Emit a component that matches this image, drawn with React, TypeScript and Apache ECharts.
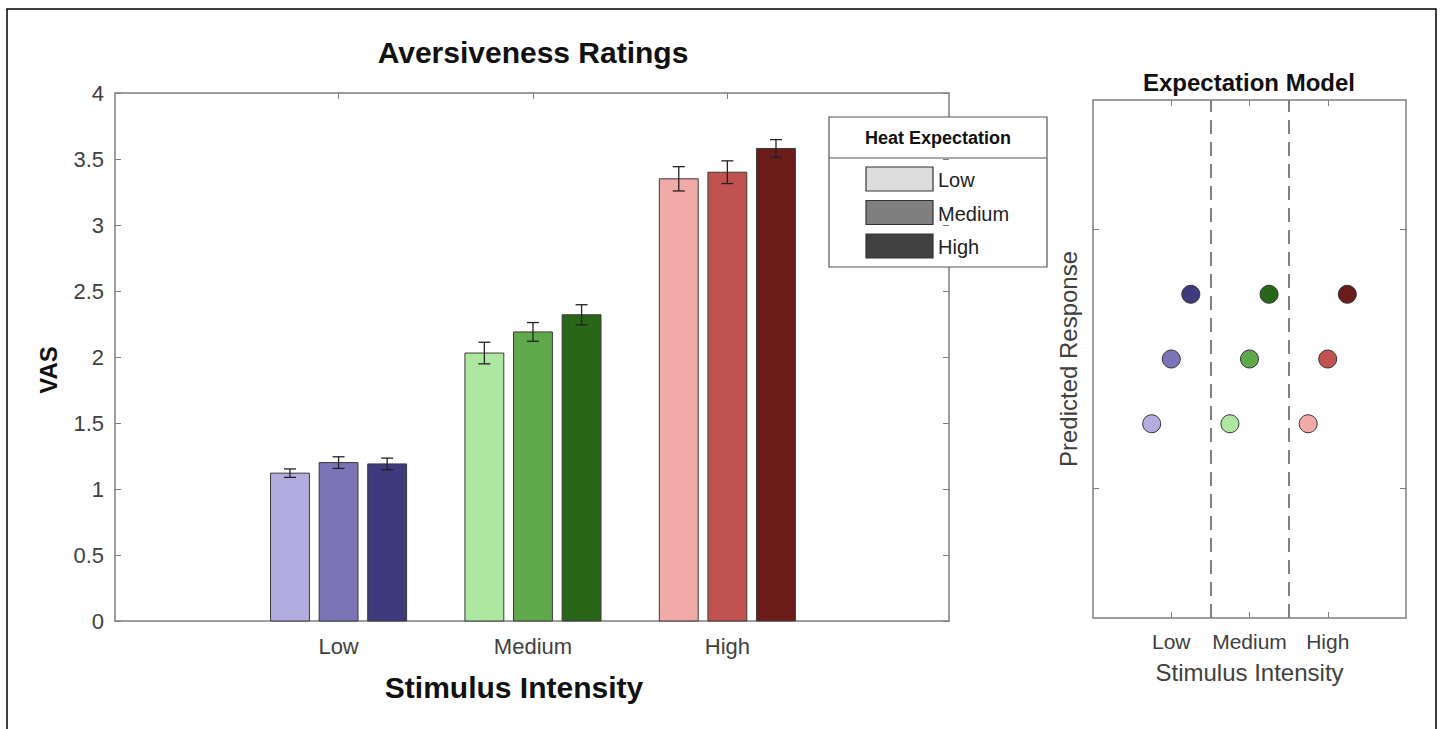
import React, { useEffect, useRef } from "react";
import * as echarts from "echarts";

const stimulusLevels = ["Low", "Medium", "High"];
const expectationLevels = ["Low", "Medium", "High"];
// VAS means per stimulus level (Low, Medium, High) for each heat expectation
const vasLowExp = [1.12, 2.03, 3.35];
const vasMediumExp = [1.2, 2.19, 3.4];
const vasHighExp = [1.19, 2.32, 3.58];
// error bar half-lengths
const errLowExp = [0.032, 0.082, 0.092];
const errMediumExp = [0.044, 0.071, 0.086];
const errHighExp = [0.044, 0.076, 0.067];
// expectation model predicted response (per stimulus level)
const predLowExp = [3, 3, 3];
const predMediumExp = [4, 4, 4];
const predHighExp = [5, 5, 5];
const vasTicks = [0, 0.5, 1, 1.5, 2, 2.5, 3, 3.5, 4];
const catTicks = [1, 2, 3];
const modelYTicks = [2, 6];
const modelDividers = [1.5, 2.5];

// colours [stimulus][expectation]
const palette = [
  ["#b3acdf", "#7b74b6", "#3e3a7d"],
  ["#ade7a0", "#5fa94b", "#286618"],
  ["#f2aaa8", "#c0524f", "#6b1b18"],
];
const legendSwatches = ["#dcdcdc", "#7f7f7f", "#404040"];

const FONT = "'Liberation Sans', Arial, Helvetica, sans-serif";
const AXIS_GRAY = "#7f7f7f";
const LABEL = "#404040";

export default function App() {
  const ref = useRef<HTMLDivElement>(null);
  useEffect(() => {
    if (!ref.current) return;
    const chart = echarts.init(ref.current, null, { renderer: "svg" });

    const vals = [vasLowExp, vasMediumExp, vasHighExp];
    const errs = [errLowExp, errMediumExp, errHighExp];
    const preds = [predLowExp, predMediumExp, predHighExp];
    const barData: number[][] = [];
    const dotData: any[] = [];
    for (let s = 0; s < stimulusLevels.length; s++) {
      for (let e = 0; e < expectationLevels.length; e++) {
        barData.push([s + 1 + (e - 1) * 0.25, vals[e][s], errs[e][s], s, e]);
        dotData.push({
          value: [s + 1 + (e - 1) * 0.25, preds[e][s]],
          itemStyle: { color: palette[s][e] },
        });
      }
    }

    const tick = (values?: number[]) => ({
      show: true,
      inside: true,
      length: 6,
      ...(values ? { customValues: values } : {}),
      lineStyle: { color: AXIS_GRAY, width: 1 },
    });
    const noLine = { show: false, onZero: false };

    const tickOnly = (gridIndex: number, position: string, extra: any) => ({
      gridIndex,
      position,
      axisLine: noLine,
      splitLine: { show: false },
      axisLabel: { show: false },
      ...extra,
    });

    const catFormatter = (v: number) => stimulusLevels[Math.round(v) - 1] ?? "";

    const option: any = {
      animation: false,
      backgroundColor: "#ffffff",
      textStyle: { fontFamily: FONT },
      grid: [
        { left: 115, top: 93, width: 834, height: 528, show: true, borderColor: AXIS_GRAY, borderWidth: 1.5, backgroundColor: "transparent" },
        { left: 1093, top: 100, width: 313, height: 518, show: true, borderColor: AXIS_GRAY, borderWidth: 1.5, backgroundColor: "transparent" },
      ],
      xAxis: [
        {
          type: "value",
          gridIndex: 0,
          min: -0.15,
          max: 4.14,
          name: "Stimulus Intensity",
          nameLocation: "middle",
          nameGap: 51,
          nameTextStyle: { fontFamily: FONT, fontSize: 30, fontWeight: "bold", color: "#111", padding: [0, 36, 0, 0] },
          axisLine: noLine,
          splitLine: { show: false },
          axisTick: tick(catTicks),
          axisLabel: {
            customValues: catTicks,
            formatter: catFormatter,
            fontFamily: FONT,
            fontSize: 22,
            color: LABEL,
            margin: 14,
          },
        },
        tickOnly(0, "top", { type: "value", min: -0.15, max: 4.14, axisTick: tick(catTicks) }),
        {
          type: "value",
          gridIndex: 1,
          min: 0,
          max: 4,
          name: "Stimulus Intensity",
          nameLocation: "middle",
          nameGap: 42,
          nameTextStyle: { fontFamily: FONT, fontSize: 24, color: LABEL },
          axisLine: noLine,
          splitLine: { show: false },
          axisTick: tick(catTicks),
          axisLabel: {
            customValues: catTicks,
            formatter: catFormatter,
            fontFamily: FONT,
            fontSize: 21,
            color: LABEL,
            margin: 13,
          },
        },
        tickOnly(1, "top", { type: "value", min: 0, max: 4, axisTick: tick(catTicks) }),
      ],
      yAxis: [
        {
          type: "value",
          gridIndex: 0,
          min: 0,
          max: 4,
          interval: 0.5,
          name: "VAS",
          nameLocation: "middle",
          nameGap: 55,
          nameTextStyle: { fontFamily: FONT, fontSize: 24, fontWeight: "bold", color: "#111", padding: [0, 26, 0, 0] },
          axisLine: noLine,
          splitLine: { show: false },
          axisTick: tick(),
          axisLabel: {
            customValues: vasTicks,
            fontFamily: FONT,
            fontSize: 22,
            color: LABEL,
            margin: 11,
          },
        },
        tickOnly(0, "right", { type: "value", min: 0, max: 4, interval: 0.5, axisTick: tick() }),
        {
          type: "value",
          gridIndex: 1,
          min: 0,
          max: 8,
          name: "Predicted Response",
          nameLocation: "middle",
          nameGap: 13,
          nameTextStyle: { fontFamily: FONT, fontSize: 24, color: LABEL },
          axisLine: noLine,
          splitLine: { show: false },
          axisTick: tick(modelYTicks),
          axisLabel: { show: false, customValues: modelYTicks },
        },
        tickOnly(1, "right", { type: "value", min: 0, max: 8, axisTick: tick(modelYTicks) }),
      ],
      series: [
        {
          type: "custom",
          xAxisIndex: 0,
          yAxisIndex: 0,
          data: barData,
          renderItem: (params: any, api: any) => {
            const x = api.value(0);
            const y = api.value(1);
            const e = api.value(2);
            const s = api.value(3);
            const k = api.value(4);
            const half = 0.1;
            const p0 = api.coord([x - half, 0]);
            const p1 = api.coord([x + half, y]);
            const top = api.coord([x, y + e]);
            const bot = api.coord([x, y - e]);
            const cap = 6;
            const errStyle = { stroke: "#222", lineWidth: 1.3 };
            return {
              type: "group",
              children: [
                {
                  type: "rect",
                  shape: { x: p0[0], y: p1[1], width: p1[0] - p0[0], height: p0[1] - p1[1] },
                  style: { fill: palette[s][k], stroke: "#3a3a3a", lineWidth: 1 },
                },
                { type: "line", shape: { x1: top[0], y1: top[1], x2: bot[0], y2: bot[1] }, style: errStyle },
                { type: "line", shape: { x1: top[0] - cap, y1: top[1], x2: top[0] + cap, y2: top[1] }, style: errStyle },
                { type: "line", shape: { x1: bot[0] - cap, y1: bot[1], x2: bot[0] + cap, y2: bot[1] }, style: errStyle },
              ],
            };
          },
        },
        {
          type: "scatter",
          xAxisIndex: 2,
          yAxisIndex: 2,
          symbolSize: 18,
          itemStyle: { borderColor: "#333", borderWidth: 1, opacity: 1 },
          data: dotData,
          markLine: {
            silent: true,
            symbol: "none",
            label: { show: false },
            lineStyle: { color: "#808080", type: [14, 8], width: 2 },
            data: modelDividers.map((v) => ({ xAxis: v })),
          },
        },
      ],
      graphic: [
        {
          type: "rect",
          shape: { x: 7, y: 9, width: 1429, height: 740 },
          style: { fill: "none", stroke: "#000", lineWidth: 1.5 },
          silent: true,
        },
        {
          type: "text",
          x: 533,
          y: 52,
          style: { text: "Aversiveness Ratings", fontFamily: FONT, fontSize: 30, fontWeight: "bold", fill: "#111", align: "center", verticalAlign: "middle" },
        },
        {
          type: "text",
          x: 1249,
          y: 82,
          style: { text: "Expectation Model", fontFamily: FONT, fontSize: 24, fontWeight: "bold", fill: "#111", align: "center", verticalAlign: "middle" },
        },
        {
          type: "group",
          children: [
            { type: "rect", shape: { x: 829, y: 117, width: 218, height: 150 }, style: { fill: "#fff", stroke: "#555", lineWidth: 1.2 } },
            { type: "line", shape: { x1: 829, y1: 158, x2: 1047, y2: 158 }, style: { stroke: "#555", lineWidth: 1.2 } },
            {
              type: "text",
              x: 938,
              y: 138,
              style: { text: "Heat Expectation", fontFamily: FONT, fontSize: 18, fontWeight: "bold", fill: "#111", align: "center", verticalAlign: "middle" },
            },
            ...expectationLevels.flatMap((lab, i) => [
              {
                type: "rect",
                shape: { x: 866, y: 167 + i * 33.5, width: 67, height: 24 },
                style: { fill: legendSwatches[i], stroke: "#333", lineWidth: 1.2 },
              },
              {
                type: "text",
                x: 938,
                y: 180 + i * 33.5,
                style: { text: lab, fontFamily: FONT, fontSize: 20, fill: "#222", align: "left", verticalAlign: "middle" },
              },
            ]),
          ],
        },
      ],
    };
    chart.setOption(option);
    return () => chart.dispose();
  }, []);
  return (
    <div
      ref={ref}
      style={{ position: "absolute", left: 0, top: 0, width: 1444, height: 729, background: "#fff" }}
    />
  );
}
